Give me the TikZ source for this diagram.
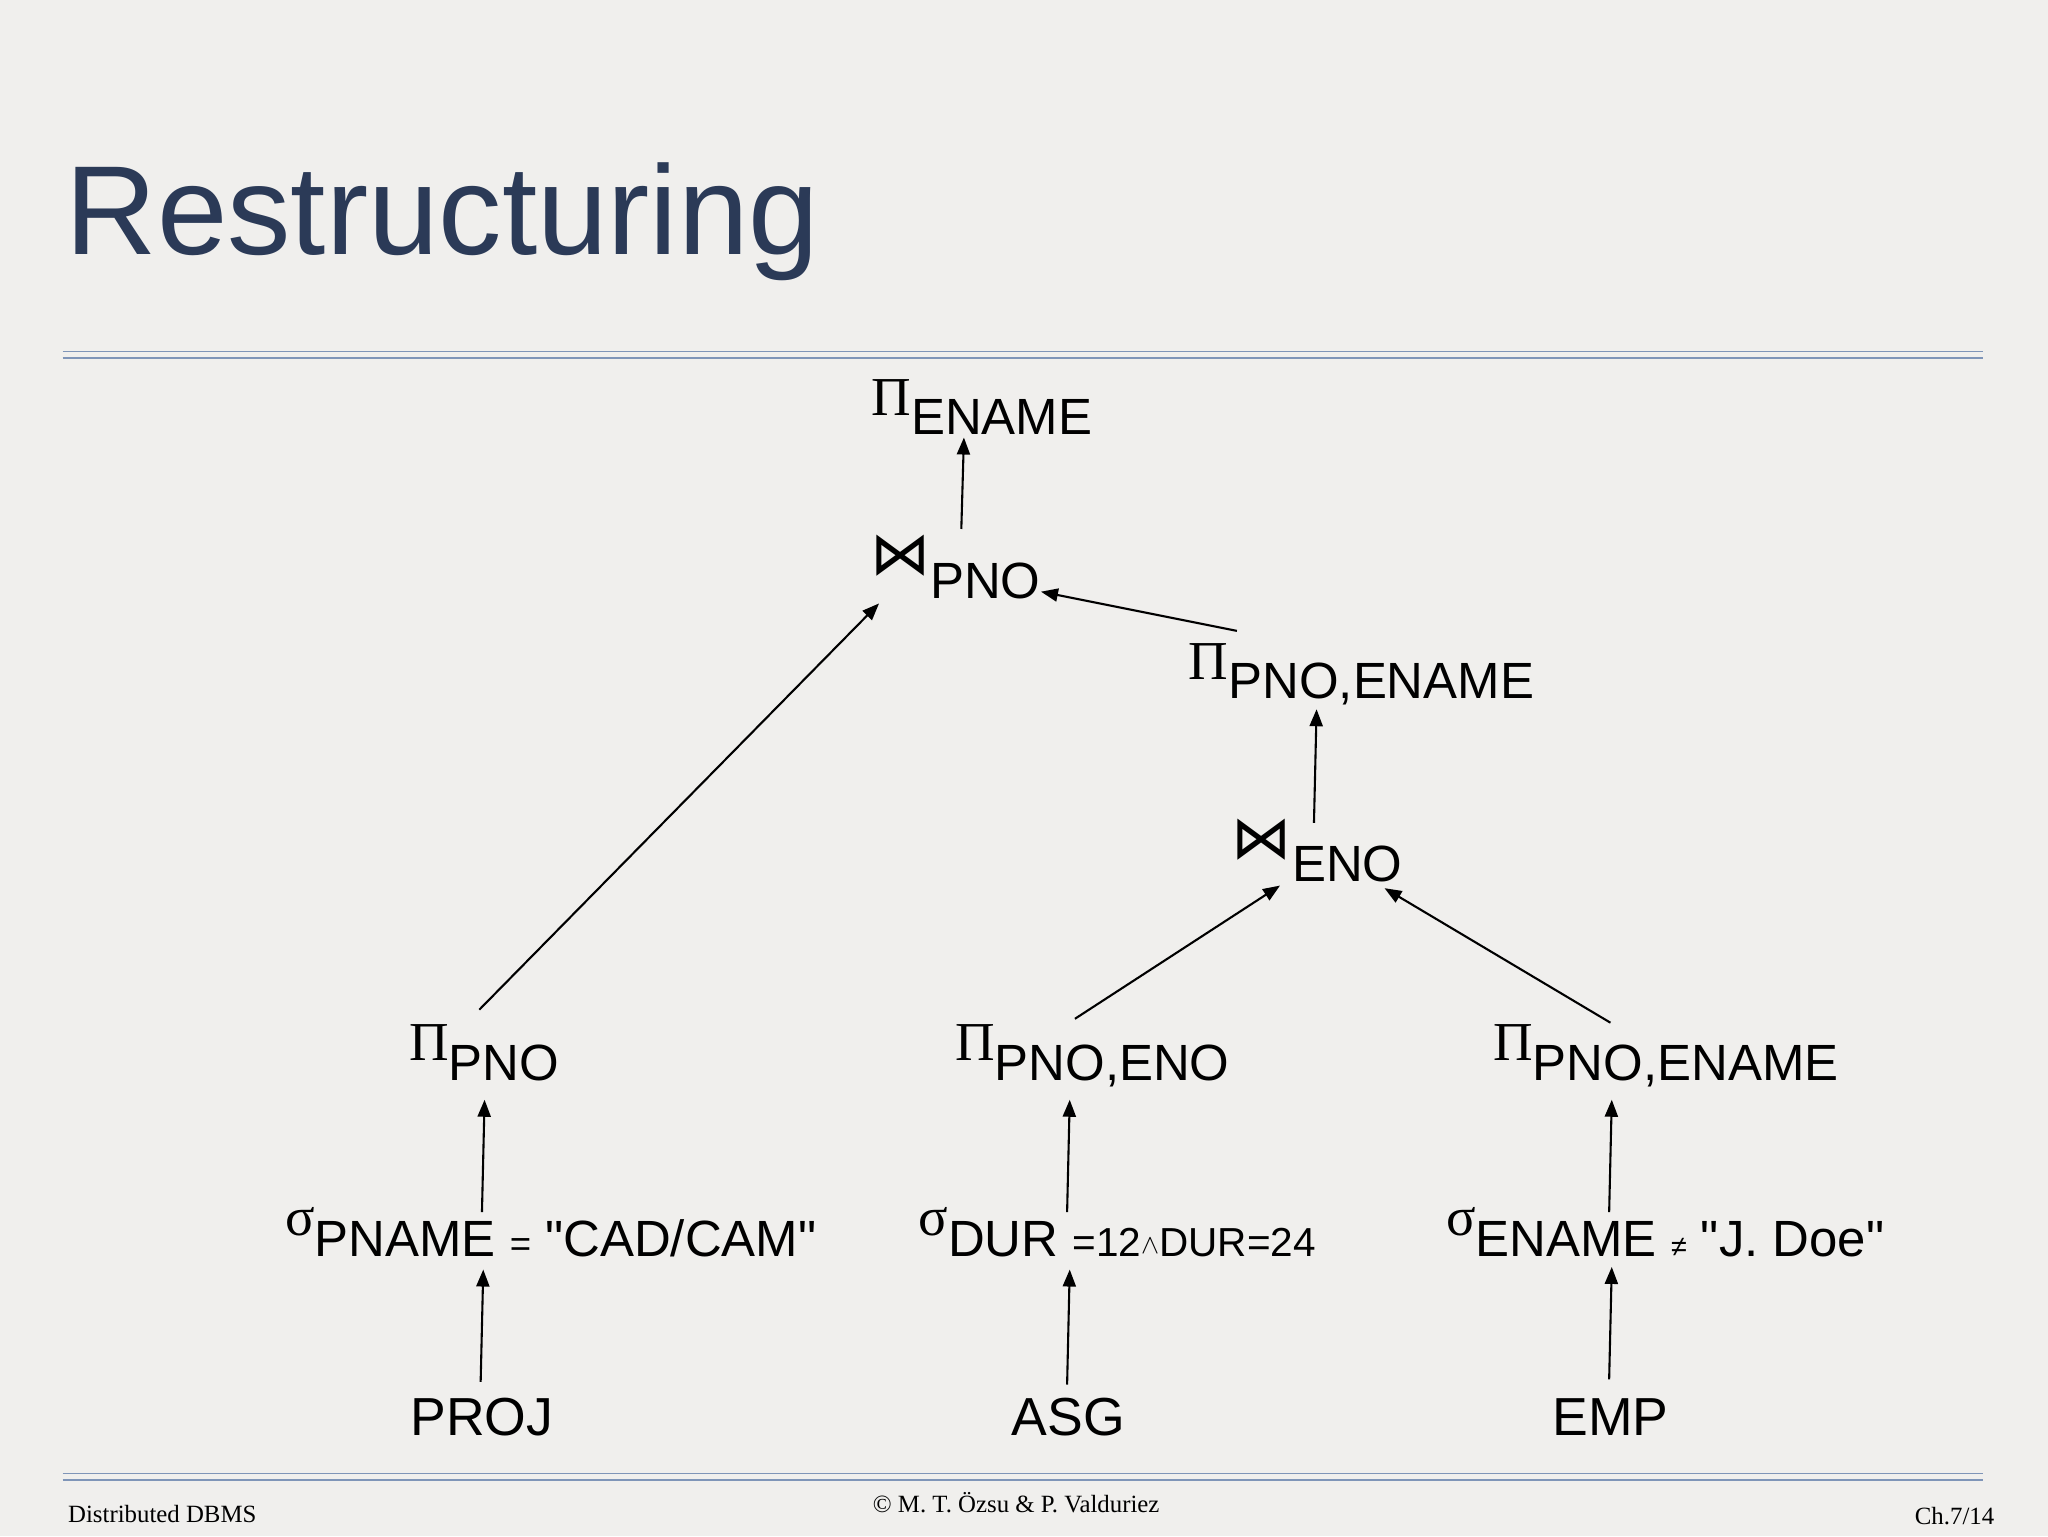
\documentclass[tikz,border=0pt]{standalone}
\usepackage{fontspec}
\setmainfont{Liberation Sans}[Ligatures=TeXOff]
\newfontfamily\serifg{Liberation Serif}
\newfontfamily\djv{DejaVu Sans}
\usetikzlibrary{arrows.meta}
\definecolor{bg}{HTML}{F0EFED}
\definecolor{ttl}{HTML}{2B3A57}
\definecolor{rule}{HTML}{7F95B8}
\newcommand{\qq}{"}
\newcommand{\Pop}[1]{{\serifg\fontsize{42}{42}\selectfont Π}\raisebox{-15pt}{#1}}
\newcommand{\Sop}[1]{{\serifg\fontsize{42}{42}\selectfont σ}\raisebox{-16pt}{#1}}
\newcommand{\Jop}[1]{{\djv\fontsize{46}{46}\selectfont ⋈}\raisebox{-18pt}{#1}}
\begin{document}
\begin{tikzpicture}[x=1pt,y=-1pt,
  lab/.style={anchor=base west,inner sep=0pt,font=\fontsize{39}{40}\selectfont},
  leaf/.style={anchor=base,inner sep=0pt,font=\fontsize{41}{41}\selectfont},
  arr/.style={-{Triangle[length=13pt,width=10pt]},line width=1.6pt},
  foot/.style={inner sep=0pt,font=\serifg\fontsize{19}{19}\selectfont}]
\useasboundingbox (0,0) rectangle (1568,1176);
\fill[bg] (0,0) rectangle (1568,1176);
\node[anchor=base west,inner sep=0pt,text=ttl,font=\fontsize{97}{97}\selectfont] (title) at (50,195) {Restructuring};
\draw[rule,line width=1pt] (48,269) -- (1518,269) (48,274) -- (1518,274);
\draw[rule,line width=1pt] (48,1128) -- (1518,1128) (48,1133) -- (1518,1133);
\node[foot,anchor=base west] (f1) at (52,1166) {Distributed DBMS};
\node[foot,anchor=base] (f2) at (778,1158) {© M. T. Özsu \& P. Valduriez};
\node[foot,anchor=base east] (f3) at (1527,1167) {Ch.7/14};

\node[lab] (pe) at (667,318) {\Pop{ENAME}};
\node[lab] (jp) at (666,440) {\Jop{PNO}};
\node[lab] (pu) at (910,520) {\Pop{PNO,ENAME}};
\node[lab] (je) at (943,657) {\Jop{ENO}};
\node[lab] (pp) at (313,812) {\Pop{PNO}};
\node[lab] (ppe) at (731,812) {\Pop{PNO,ENO}};
\node[lab] (ppn) at (1143,812) {\Pop{PNO,ENAME}};
\node[lab] (s1) at (218,946) {\Sop{PNAME {\fontsize{28}{28}\selectfont =} \qq CAD/CAM\qq}};
\node[lab] (s2) at (703,946) {\Sop{DUR {\fontsize{31}{31}\selectfont =12\raisebox{2pt}{$\scriptstyle\wedge$}DUR=24}}};
\node[lab] (s3) at (1107,946) {\Sop{ENAME {\fontsize{22}{22}\selectfont ≠} \qq J. Doe\qq}};
\node[leaf] (proj) at (369,1099) {PROJ};
\node[leaf] (asg) at (818,1099) {ASG};
\node[leaf] (emp) at (1233,1099) {EMP};

\coordinate (a1) at (736,405); \coordinate (b1) at (738,335);
\coordinate (a2) at (367,773); \coordinate (b2) at (673,462);
\coordinate (a3) at (947,483); \coordinate (b3) at (797,453);
\coordinate (a4) at (1006,630); \coordinate (b4) at (1008,543);
\coordinate (a5) at (823,780); \coordinate (b5) at (980,678);
\coordinate (a6) at (1233,783); \coordinate (b6) at (1060,680);
\coordinate (a7) at (369,928); \coordinate (b7) at (371,842);
\coordinate (a8) at (817,928); \coordinate (b8) at (819,842);
\coordinate (a9) at (1232,928); \coordinate (b9) at (1234,842);
\coordinate (a10) at (368,1058); \coordinate (b10) at (370,972);
\coordinate (a11) at (817,1060); \coordinate (b11) at (819,972);
\coordinate (a12) at (1232,1056); \coordinate (b12) at (1234,970);
\foreach \i in {1,...,12} \draw[arr] (a\i) -- (b\i);
\end{tikzpicture}
\end{document}
